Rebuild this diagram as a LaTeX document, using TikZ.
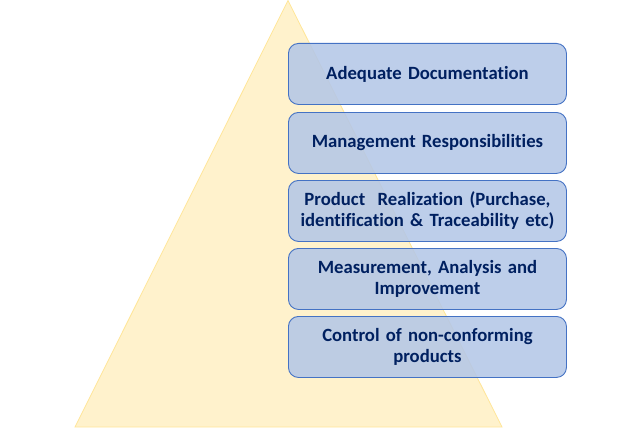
\documentclass[tikz,border=0pt]{standalone}
\usepackage{fontspec}
\setmainfont[Ligatures=NoCommon]{Carlito}
\definecolor{trifill}{RGB}{255,242,204}
\definecolor{triline}{RGB}{255,230,153}
\definecolor{boxfill}{RGB}{180,199,231}
\definecolor{boxline}{RGB}{68,114,196}
\definecolor{navy}{RGB}{0,32,96}
\tikzset{
  levelbox/.style={draw=boxline, line width=0.9pt, fill=boxfill, fill opacity=0.88, text opacity=1,
    rounded corners=10pt, minimum width=278pt, minimum height=61pt, text width=274pt, align=center,
    inner sep=0pt, text=navy, font=\fontsize{18.7}{21}\selectfont\bfseries, anchor=north west}
}
\begin{document}
\begin{tikzpicture}[x=1pt,y=-1pt]
\useasboundingbox (0,0) rectangle (640,428);
\path[fill=trifill, draw=triline, line width=0.8pt] (288,0.5) -- (502,427) -- (75,427) -- cycle;
\node[levelbox] (b1) at (288,43) {Adequate Documentation};
\node[levelbox] (b2) at (288,112) {Management Responsibilities};
\node[levelbox] (b3) at (288,180) {Product\ \ Realization (Purchase,\\ identification \& Traceability etc)};
\node[levelbox] (b4) at (288,248) {Measurement, Analysis and\\ Improvement};
\node[levelbox] (b5) at (288,316) {Control of non-conforming\\ products};
\end{tikzpicture}
\end{document}
